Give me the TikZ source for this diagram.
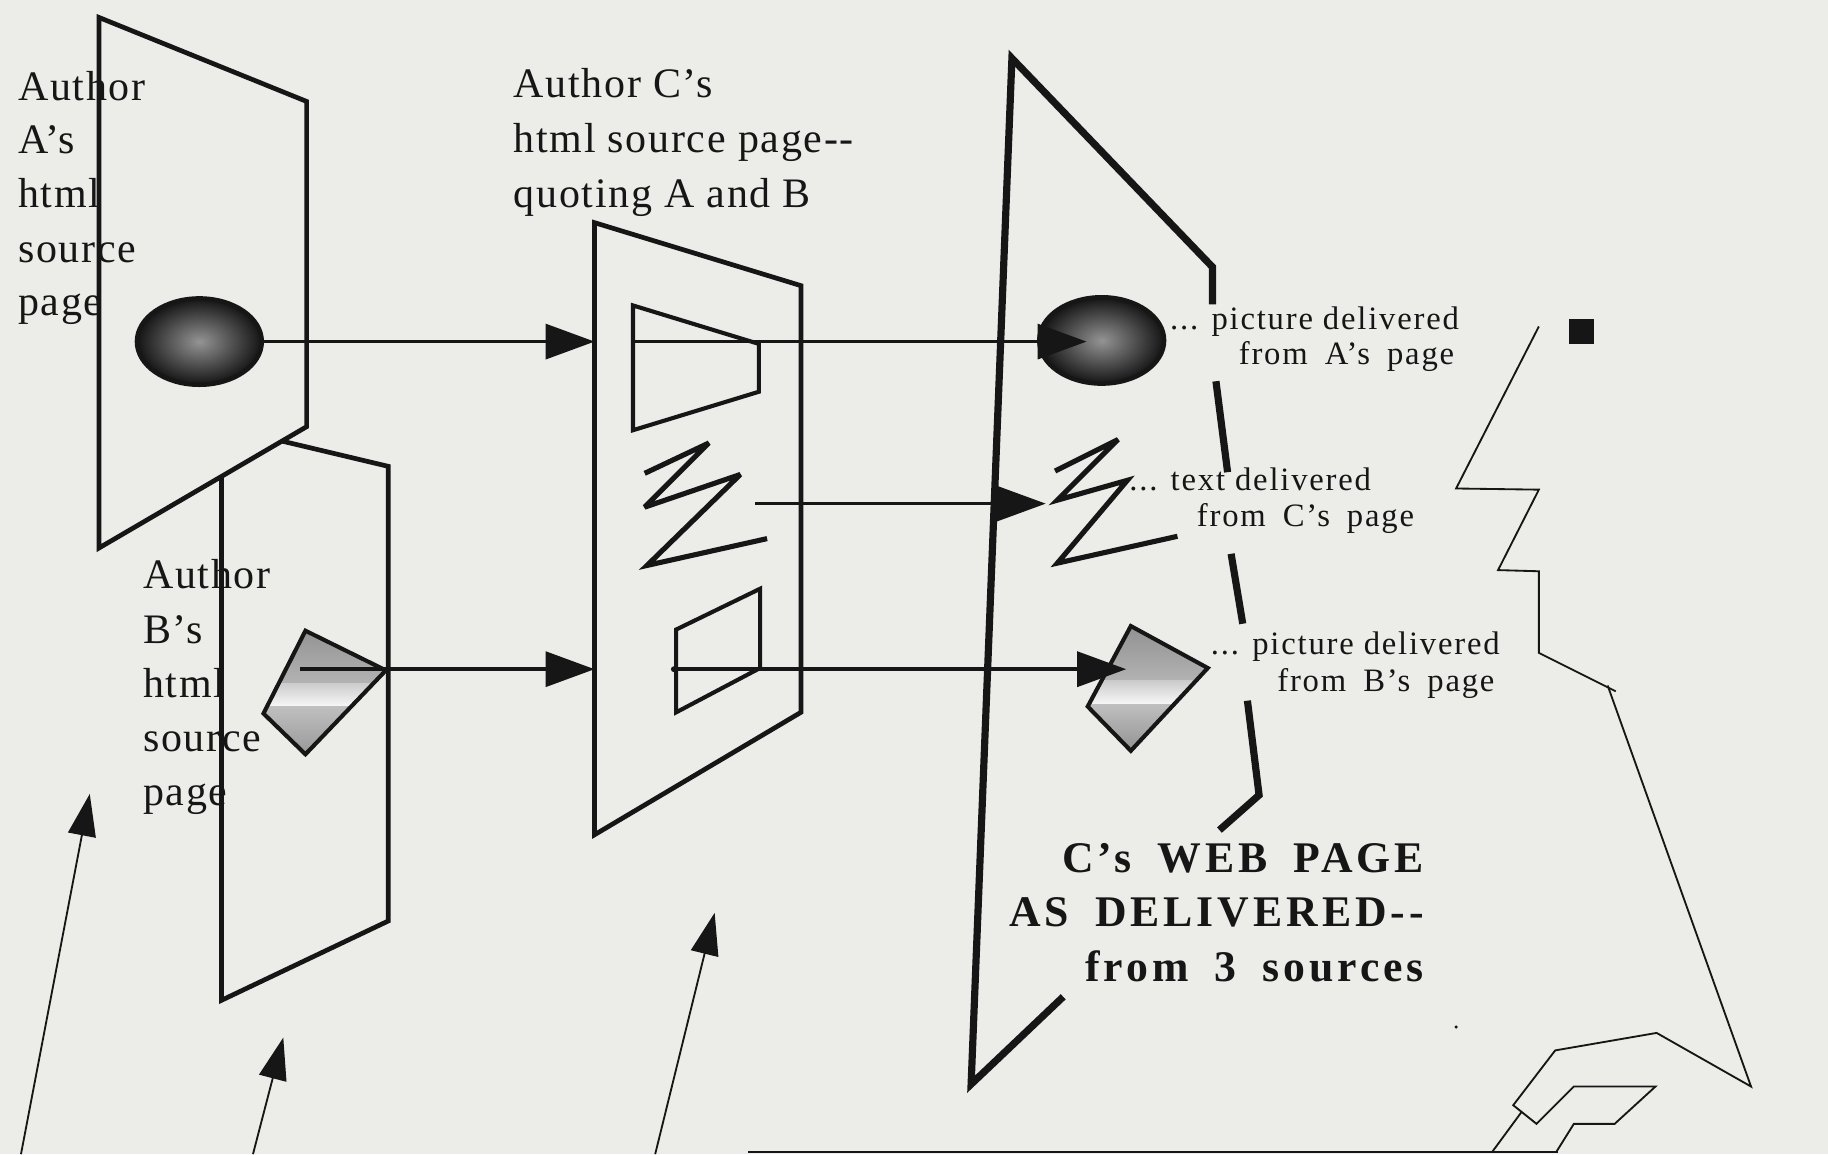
\documentclass[tikz,border=0pt]{standalone}
\usepackage{fontspec}
\setmainfont{Liberation Serif}
\newfontfamily\mainlbl[LetterSpace=4]{Liberation Serif}
\newfontfamily\smalllbl[LetterSpace=5.5]{Liberation Serif}
\newfontfamily\boldlbl[LetterSpace=9,WordSpace=1.75]{Liberation Serif}
\usetikzlibrary{arrows.meta,shapes.geometric}
\definecolor{bg}{RGB}{236,236,233}
\definecolor{ink}{RGB}{22,22,22}
\newcommand{\wsp}{\hspace{0.06cm}}
\begin{document}
\begin{tikzpicture}[x=0.01cm,y=-0.01cm,
  page/.style={draw=ink,line width=1.15pt,line join=miter,fill=bg},
  webpage/.style={draw=ink,line width=1.75pt,line join=miter},
  innerbox/.style={draw=ink,line width=1pt,line join=miter},
  zig/.style={draw=ink,line width=1.25pt,line join=miter,miter limit=4},
  flow/.style={draw=ink,line width=0.85pt,-{Triangle[length=0.42cm,width=0.30cm]}},
  pointer/.style={draw=ink,line width=0.45pt,-{Triangle[length=0.36cm,width=0.24cm]}},
  thinline/.style={draw=ink,line width=0.45pt,line join=miter},
  maintext/.style={inner sep=0pt,anchor=base west,font=\mainlbl\fontsize{10.24pt}{12pt}\selectfont,text=ink},
  smalltext/.style={inner sep=0pt,anchor=base west,font=\smalllbl\fontsize{7.97pt}{9pt}\selectfont,text=ink},
  boldtext/.style={inner sep=0pt,anchor=base east,font=\boldlbl\bfseries\fontsize{10.67pt}{12pt}\selectfont,text=ink},
  picA/.style={ellipse,draw=ink,line width=1.1pt,inner color=black!42,outer color=black!92,minimum width=1.07cm,minimum height=0.74cm,inner sep=0pt},
  diaedge/.style={draw=ink,line width=1pt,line join=miter}
]
\useasboundingbox (0,0) rectangle (1568,990);
\fill[bg] (0,0) rectangle (1568,990);

% ---- Author B's page (behind A)
\draw[page] (190,366) -- (333,400) -- (333,790) -- (190,858) -- cycle;
\begin{scope}
  \clip (262,541) -- (331,575) -- (262,647) -- (226,612) -- cycle;
  \shade[top color=black!45,bottom color=black!30] (200,530) rectangle (340,586);
  \shade[top color=black!20,bottom color=black!3] (200,586) rectangle (340,606);
  \shade[top color=black!25,bottom color=black!45] (200,606) rectangle (340,660);
\end{scope}
\draw[diaedge] (262,541) -- (331,575) -- (262,647) -- (226,612) -- cycle;
\coordinate (diaBin) at (257,574);
\coordinate (Cin2) at (510,574);
\draw[flow] (diaBin) -- (Cin2);

% ---- Author A's page
\draw[page] (85,15) -- (263,87) -- (263,366) -- (85,470) -- cycle;
\node[picA] (ellA) at (171,293) {};
\coordinate (Cin1) at (510,293);
\draw[flow] (ellA.east) -- (Cin1);

% ---- texts of the source pages
\node[maintext] (tA1) at (15,86) {Author};
\node[maintext] (tA2) at (15,132) {A’s};
\node[maintext] (tA3) at (15,178) {html};
\node[maintext] (tA4) at (15,225) {source};
\node[maintext] (tA5) at (15,271) {page};
\node[maintext] (tB1) at (122,505) {Author};
\node[maintext] (tB2) at (122,552) {B’s};
\node[maintext] (tB3) at (122,598) {html};
\node[maintext] (tB4) at (122,645) {source};
\node[maintext] (tB5) at (122,691) {page};
\node[maintext] (tC1) at (440,84) {Author C’s};
\node[maintext] (tC2) at (440,131) {html source page-{}-};
\node[maintext] (tC3) at (440,178) {quoting A and B};

% ---- Author C's page
\draw[page] (510,191) -- (687,245) -- (687,611) -- (510,716) -- cycle;
\draw[innerbox] (543,262) -- (651,295) -- (651,336) -- (543,369) -- cycle;
\draw[innerbox] (580,540) -- (652,505) -- (652,573) -- (580,611) -- cycle;
\draw[zig] (553,406) -- (608,380) -- (553,435) -- (635,407) -- (555,485) -- (658,462);

% ---- C's web page as delivered
\draw[webpage] (912,855) -- (833,930) -- (868,50) -- (1040,229) -- (1040,261);
\draw[webpage] (1043,327) -- (1053,405);
\draw[webpage] (1056,475) -- (1066,535);
\draw[webpage] (1070,601) -- (1080,682) -- (1046,712);

\node[picA] (ellC) at (945,292) {};
\draw[zig] (905,404) -- (959,377) -- (907,429) -- (967,412) -- (907,483) -- (1010,460);
\begin{scope}
  \clip (970,537) -- (1036,573) -- (970,644) -- (933,606) -- cycle;
  \shade[top color=black!45,bottom color=black!30] (920,530) rectangle (1045,584);
  \shade[top color=black!20,bottom color=black!3] (920,584) rectangle (1045,604);
  \shade[top color=black!25,bottom color=black!45] (920,604) rectangle (1045,650);
\end{scope}
\draw[diaedge] (970,537) -- (1036,573) -- (970,644) -- (933,606) -- cycle;

\coordinate (trapL) at (542,293);
\coordinate (ellCtip) at (932,293);
\draw[flow] (trapL) -- (ellCtip);
\coordinate (zigOut) at (648,432);
\coordinate (zigTip) at (897,432);
\draw[flow,line width=0.75pt] (zigOut) -- (zigTip);
\coordinate (parL) at (578,574);
\coordinate (diaBtip) at (966,574);
\draw[flow] (parL) -- (diaBtip);
\fill[ink] (parL) circle[radius=2.5];

% ---- labels
\node[smalltext] (lA1) at (1003,283) {... picture delivered};
\node[smalltext] (lA2) at (1062,313) {from\wsp{} A’s\wsp{} page};
\node[smalltext] (lC1) at (968,421) {... text delivered};
\node[smalltext] (lC2) at (1026,452) {from\wsp{} C’s\wsp{} page};
\node[smalltext] (lB1) at (1038,561) {... picture delivered};
\node[smalltext] (lB2) at (1095,593) {from\wsp{} B’s\wsp{} page};
\node[boldtext] (wt1) at (1222,748) {C’s WEB PAGE};
\node[boldtext] (wt2) at (1222,795) {AS DELIVERED-{}-};
\node[boldtext] (wt3) at (1222,842) {from 3 sources};

% ---- pointers from the bottom
\coordinate (pA0) at (18,990);  \coordinate (pA1) at (77,681);
\coordinate (pB0) at (217,990); \coordinate (pB1) at (243,890);
\coordinate (pC0) at (562,990); \coordinate (pC1) at (613,783);
\draw[pointer] (pA0) -- (pA1);
\draw[pointer] (pB0) -- (pB1);
\draw[pointer] (pC0) -- (pC1);

% ---- bottom line and right-hand outline
\coordinate (bl0) at (642,988); \coordinate (bl1) at (1336,988);
\draw[thinline] (bl0) -- (bl1);
\draw[thinline] (1320,280) -- (1249,419) -- (1320,420) -- (1285,489) -- (1320,490)
  -- (1320,560) -- (1386,593);
\draw[thinline] (1379,588) -- (1502,932) -- (1421,886) -- (1334,901) -- (1298,948)
  -- (1318,964) -- (1350,932) -- (1420,932) -- (1385,964) -- (1350,964) -- (1335,988);
\draw[thinline] (1305,954) -- (1280,988);
\fill[ink] (1346,274) rectangle (1367,295);
\fill[ink] (1249,881) circle[radius=1.5];
\end{tikzpicture}
\end{document}
